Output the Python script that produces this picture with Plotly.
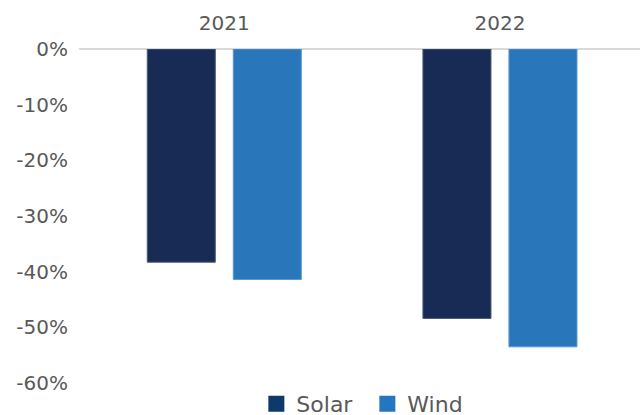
import plotly.graph_objects as go

years = ["2021", "2022"]
solar = [-38.3, -48.4]
wind = [-41.4, -53.5]
y_ticks = [0, -10, -20, -30, -40, -50, -60]
y_tick_labels = ["0%", "-10%", "-20%", "-30%", "-40%", "-50%", "-60%"]

solar_color = "#182B54"
wind_color = "#2A76BB"
text_color = "#595959"
font_family = "DejaVu Sans, sans-serif"

fig = go.Figure()
fig.add_trace(go.Bar(
    x=years, y=solar, name="Solar", showlegend=False,
    marker=dict(color=solar_color, line=dict(color="#4A5A7A", width=1)),
))
fig.add_trace(go.Bar(
    x=years, y=wind, name="Wind", showlegend=False,
    marker=dict(color=wind_color, line=dict(color="#5A96D0", width=1)),
))
# legend entries with square swatches
fig.add_trace(go.Scatter(
    x=[None], y=[None], mode="markers", name="Solar",
    marker=dict(symbol="square", size=18, color="#0D3A6A"),
))
fig.add_trace(go.Scatter(
    x=[None], y=[None], mode="markers", name="Wind",
    marker=dict(symbol="square", size=18, color="#2476C0"),
))

fig.update_layout(
    width=642, height=415,
    margin=dict(l=79, r=2, t=49, b=32, autoexpand=False),
    paper_bgcolor="white", plot_bgcolor="white",
    barmode="group", bargap=0.376, bargroupgap=0.209,
    font=dict(family=font_family, size=20, color=text_color),
    showlegend=True,
    legend=dict(
        orientation="h", x=0.514, xanchor="center",
        y=0.0, yanchor="top",
        font=dict(size=22, color=text_color), itemwidth=30,
        entrywidth=66, entrywidthmode="pixels",
        tracegroupgap=0, bgcolor="rgba(0,0,0,0)",
    ),
    xaxis=dict(
        type="category", side="top", range=[-0.527, 1.508],
        showgrid=False, showline=False, ticks="", zeroline=False,
        tickfont=dict(size=20, color=text_color), ticklabelstandoff=14,
    ),
    yaxis=dict(
        range=[-60, 0], tickvals=y_ticks, ticktext=y_tick_labels,
        showgrid=False, showline=False, ticks="",
        zeroline=True, zerolinecolor="#D9D9D9", zerolinewidth=2,
        tickfont=dict(size=20, color=text_color), ticklabelstandoff=10,
    ),
)

fig.write_html("out.html")
